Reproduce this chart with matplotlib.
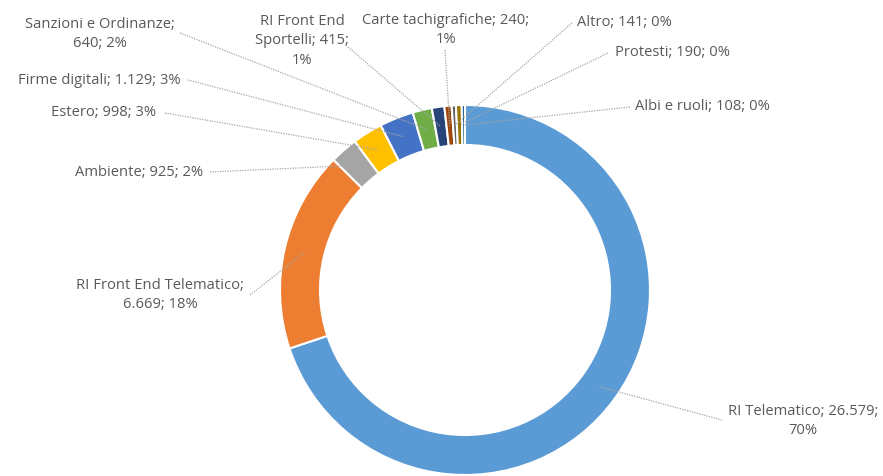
import matplotlib
matplotlib.use('Agg')
import matplotlib.pyplot as plt
import numpy as np

# dati
categorie = ['RI Telematico', 'RI Front End Telematico', 'Ambiente', 'Estero',
             'Firme digitali', 'Sanzioni e Ordinanze', 'RI Front End Sportelli',
             'Carte tachigrafiche', 'Altro', 'Protesti', 'Albi e ruoli']
valori = [26579, 6669, 925, 998, 1129, 640, 415, 240, 141, 190, 108]
colori = ['#5B9BD5', '#ED7D31', '#A5A5A5', '#FFC000', '#4472C4', '#70AD47',
          '#264478', '#9E480E', '#636363', '#997300', '#255E91']
# testo etichette con a capo come nel grafico originale
etichette_fmt = ['{n}; {v};\n{p}', '{n};\n{v}; {p}', '{n}; {v}; {p}', '{n}; {v}; {p}',
                 '{n}; {v}; {p}', '{n};\n{v}; {p}', 'RI Front End\nSportelli; {v};\n{p}',
                 '{n}; {v};\n{p}', '{n}; {v}; {p}', '{n}; {v}; {p}', '{n}; {v}; {p}']

W, H = 883, 476
# posizioni in pixel (x, y dall'alto, allineamento) e attacco della linea guida
pos_testo = [(803, 421, 'center'), (160, 295, 'center'), (203, 173, 'right'),
             (156, 113, 'right'), (181, 80, 'right'), (100, 34, 'center'),
             (302, 41, 'center'), (446, 30, 'center'), (577, 23, 'left'),
             (615, 53, 'left'), (635, 107, 'left')]
attacco = [(722, 420), (250, 295), (210, 172), (165, 113), (188, 80), (180, 33),
           (348, 47), (445, 50), (572, 23), (608, 53), (630, 107)]

centro = (465, H - 290)
raggio = 185
spessore = 40

fig = plt.figure(figsize=(W / 100, H / 100), dpi=100)
ax = fig.add_axes([0, 0, 1, 1])

wedges, _ = ax.pie(valori, colors=colori, startangle=90, counterclock=False,
                   radius=raggio, center=centro,
                   wedgeprops=dict(width=spessore, edgecolor='white', linewidth=1.5))

totale = sum(valori)


def fmt_num(v):
    return f'{v:,}'.replace(',', '.')


for i, w in enumerate(wedges):
    p = round(valori[i] / totale * 100)
    testo = etichette_fmt[i].format(n=categorie[i], v=fmt_num(valori[i]), p=f'{p}%')
    x, y, ha = pos_testo[i]
    ax.text(x, H - y, testo, ha=ha, va='center', fontsize=10.6, color='#595959',
            family='Open Sans', linespacing=1.4, multialignment='center')
    ang = np.deg2rad((w.theta1 + w.theta2) / 2)
    r = raggio - 20
    px = centro[0] + r * np.cos(ang)
    py = centro[1] + r * np.sin(ang)
    ax_, ay_ = attacco[i]
    ax.plot([ax_, px], [H - ay_, py], color='#A6A6A6', linestyle=(0, (1, 1)),
            linewidth=0.9, zorder=3)

ax.set_xlim(0, W)
ax.set_ylim(0, H)
ax.set_aspect('equal')
ax.axis('off')

fig.savefig('out.png', dpi=100, facecolor='white')
